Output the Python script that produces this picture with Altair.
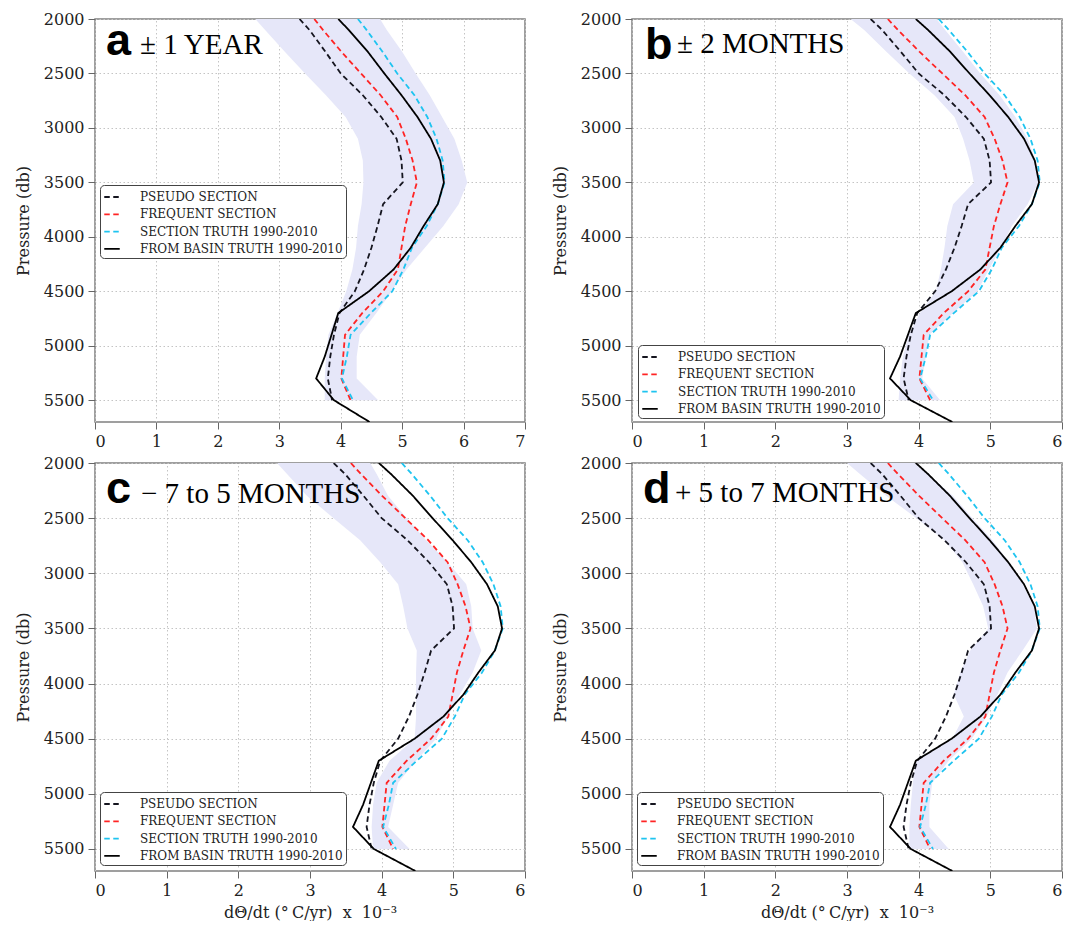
import altair as alt
import pandas as pd

# Pressure levels (db)
PRESSURE = [2000, 2100, 2300, 2500, 2700, 2900, 3100, 3300, 3500, 3700,
            3900, 4100, 4300, 4500, 4700, 4900, 5100, 5300, 5500, 5700]

# Warming rate profiles, dTheta/dt in 1e-3 degC/yr (same curves in every panel)
PSEUDO = [3.33, 3.49, 3.75, 4.00, 4.36, 4.66, 4.91, 4.99, 5.01, 4.69,
          4.60, 4.50, 4.38, 4.23, 3.98, 3.89, 3.83, 3.79, 3.86]
FREQUENT = [3.57, 3.71, 4.01, 4.33, 4.65, 4.92, 5.06, 5.17, 5.24, 5.14,
            5.05, 4.99, 4.93, 4.69, 4.35, 4.07, 4.04, 4.01, 4.16]
SECTION_TRUTH = [4.28, 4.42, 4.68, 4.92, 5.20, 5.41, 5.56, 5.66, 5.69, 5.58,
                 5.40, 5.16, 5.02, 4.84, 4.49, 4.16, 4.10, 4.02, 4.20]
BASIN_TRUTH = [3.96, 4.13, 4.44, 4.71, 4.99, 5.25, 5.47, 5.62, 5.68, 5.58,
               5.35, 5.14, 4.86, 4.46, 3.96, 3.85, 3.74, 3.60, 3.89, 4.47]

# Shaded spread envelopes (2000-5500 db) per panel
ENV_A_LOW = [2.61, 2.77, 3.09, 3.42, 3.76, 4.08, 4.28, 4.36, 4.37, 4.34,
             4.28, 4.25, 4.19, 4.09, 3.95, 3.80, 3.76, 3.74, 3.74]
ENV_A_HIGH = [4.64, 4.75, 5.00, 5.22, 5.45, 5.65, 5.85, 5.97, 6.06, 5.92,
              5.67, 5.37, 5.07, 4.83, 4.58, 4.31, 4.26, 4.26, 4.61]
ENV_B_LOW = [3.05, 3.24, 3.55, 3.87, 4.22, 4.50, 4.62, 4.71, 4.77, 4.48,
             4.40, 4.36, 4.31, 4.24, 4.02, 3.86, 3.78, 3.74, 3.72]
ENV_B_HIGH = [4.25, 4.37, 4.62, 4.86, 5.13, 5.35, 5.52, 5.63, 5.67, 5.52,
              5.30, 5.15, 4.98, 4.82, 4.48, 4.15, 4.10, 4.05, 4.30]
ENV_C_LOW = [2.54, 2.68, 2.96, 3.33, 3.70, 3.98, 4.23, 4.30, 4.36, 4.49,
             4.48, 4.48, 4.48, 4.46, 4.11, 3.93, 3.88, 3.86, 3.88]
ENV_C_HIGH = [3.84, 3.93, 4.09, 4.35, 4.62, 4.92, 5.18, 5.25, 5.27, 5.39,
              5.27, 5.09, 4.92, 4.76, 4.48, 4.23, 4.16, 4.09, 4.39]
ENV_D_LOW = [3.00, 3.18, 3.55, 3.97, 4.36, 4.61, 4.76, 4.90, 4.97, 4.72,
             4.58, 4.49, 4.63, 4.47, 3.96, 3.92, 3.89, 3.87, 3.87]
ENV_D_HIGH = [3.94, 4.13, 4.48, 4.75, 5.03, 5.26, 5.45, 5.61, 5.65, 5.45,
              5.24, 5.10, 4.95, 4.74, 4.42, 4.19, 4.15, 4.15, 4.42]

SERIES_NAMES = ["PSEUDO SECTION", "FREQUENT SECTION",
                "SECTION TRUTH 1990-2010", "FROM BASIN TRUTH 1990-2010"]
SERIES_VALUES = [PSEUDO, FREQUENT, SECTION_TRUTH, BASIN_TRUTH]
SERIES_COLORS = ["#15151f", "#ff2424", "#1ec4f0", "#000000"]
SERIES_DASH = [[5.5, 3.5], [5.5, 3.5], [5.5, 3.5], [1, 0]]

PANEL_LETTERS = ["a", "b", "c", "d"]
PANEL_LABELS = ["± 1 YEAR", "± 2 MONTHS", "\u2212 7 to 5 MONTHS", "+ 5 to 7 MONTHS"]
PANEL_XMAX = [7, 6, 6, 6]
PANEL_ENV = [(ENV_A_LOW, ENV_A_HIGH), (ENV_B_LOW, ENV_B_HIGH),
             (ENV_C_LOW, ENV_C_HIGH), (ENV_D_LOW, ENV_D_HIGH)]
Y_TICKS = [2000, 2500, 3000, 3500, 4000, 4500, 5000, 5500]
X_TITLE = "d\u0398/dt (\u00b0\u2009C/yr)\u00a0 x \u00a010\u207b\u00b3"

ENV_COLOR = "#e6e7f9"

line_rows = []
for name, vals in zip(SERIES_NAMES, SERIES_VALUES):
    for p, v in zip(PRESSURE, vals):
        line_rows.append({"series": name, "p": p, "v": v})
lines_df = pd.DataFrame(line_rows)

layout = [
    dict(w=430, h=403, lx=5, ly=166, show_xtitle=False, lt=(11, 36), lb=(45, 35)),
    dict(w=430, h=403, lx=6, ly=326, show_xtitle=False, lt=(13, 40), lb=(45, 34)),
    dict(w=430, h=408, lx=5, ly=329, show_xtitle=True, lt=(11, 40), lb=(46, 40)),
    dict(w=430, h=408, lx=5, ly=329, show_xtitle=True, lt=(11, 40), lb=(43, 39)),
]

panels = []
for i in range(4):
    lo, hi = PANEL_ENV[i]
    env_df = pd.DataFrame({"p": PRESSURE[:len(lo)], "lo": lo, "hi": hi})
    lay = layout[i]
    xmax = PANEL_XMAX[i]
    xaxis_kwargs = dict(values=list(range(xmax + 1)), labelPadding=4,
                        titlePadding=6)
    if lay["show_xtitle"]:
        xaxis_kwargs["title"] = X_TITLE
    else:
        xaxis_kwargs["title"] = None
    xscale = alt.Scale(domain=[0, xmax], nice=False, zero=False)
    yenc = alt.Y("p:Q",
                 scale=alt.Scale(domain=[2000, 5700], reverse=True, nice=False, zero=False),
                 axis=alt.Axis(values=Y_TICKS, format="d", title="Pressure (db)",
                               titlePadding=12, labelPadding=4))

    area = alt.Chart(env_df).mark_area(orient="horizontal", color=ENV_COLOR, clip=True).encode(
        x=alt.X("lo:Q", scale=xscale, axis=alt.Axis(**xaxis_kwargs)),
        x2="hi:Q",
        y=yenc,
    )

    leg = alt.Legend(orient="none", legendX=lay["lx"], legendY=lay["ly"],
                     symbolType="stroke", symbolSize=240, symbolStrokeWidth=1.8,
                     labelFont="DejaVu Serif", labelFontSize=12, labelColor="#222",
                     labelOffset=19, labelLimit=400, rowPadding=2.3, padding=3,
                     strokeColor="#444", fillColor="white", cornerRadius=4)

    lines = alt.Chart(lines_df).mark_line(strokeWidth=1.8, clip=True).encode(
        x=alt.X("v:Q", scale=xscale, axis=alt.Axis(**xaxis_kwargs)),
        y=yenc,
        order=alt.Order("p:Q"),
        color=alt.Color("series:N", title=None,
                        scale=alt.Scale(domain=SERIES_NAMES, range=SERIES_COLORS),
                        legend=leg),
        strokeDash=alt.StrokeDash("series:N", title=None,
                                  scale=alt.Scale(domain=SERIES_NAMES, range=SERIES_DASH),
                                  legend=leg),
    )

    letter = alt.Chart(pd.DataFrame({"t": [PANEL_LETTERS[i]]})).mark_text(
        font="Liberation Sans", fontWeight="bold", fontSize=45, align="left",
        baseline="alphabetic", color="black"
    ).encode(text="t:N", x=alt.value(lay["lt"][0]), y=alt.value(lay["lt"][1]))

    label = alt.Chart(pd.DataFrame({"t": [PANEL_LABELS[i]]})).mark_text(
        font="Liberation Serif", fontSize=29, align="left",
        baseline="alphabetic", color="black"
    ).encode(text="t:N", x=alt.value(lay["lb"][0]), y=alt.value(lay["lb"][1]))

    panel = alt.layer(area, lines, letter, label).properties(width=lay["w"], height=lay["h"])
    panels.append(panel)

chart = alt.concat(
    *panels, columns=2, spacing={"row": 41, "column": 107}, bounds="flush"
).resolve_scale(
    x="independent", y="independent"
).resolve_legend(
    color="independent", strokeDash="independent"
).configure_view(
    stroke="#808080", strokeWidth=1.5
).configure_axis(
    labelFont="DejaVu Serif", labelFontSize=16, labelColor="#222",
    titleFont="DejaVu Serif", titleFontSize=16, titleFontWeight="normal", titleColor="#222",
    tickColor="#666", tickSize=7, domain=False,
    gridColor="#c4c4c4", gridDash=[1.5, 2.5], gridWidth=1
).properties(
    padding={"left": 6, "top": 2, "right": 5, "bottom": 0},
    background="white"
)

chart.save("out.html", embed_options={"renderer": "svg", "actions": False})
